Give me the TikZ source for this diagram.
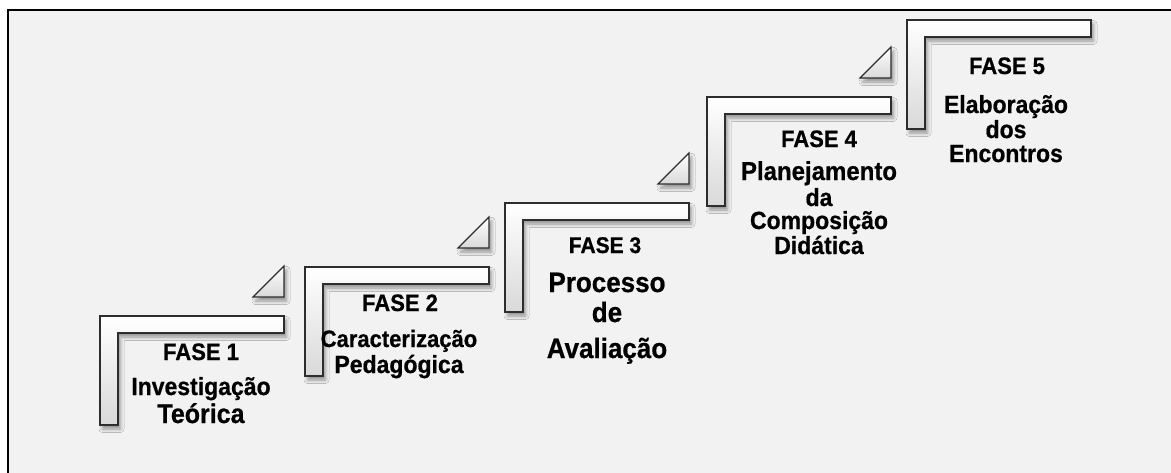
\documentclass[tikz,border=0pt]{standalone}
\usepackage{fontspec}
\setmainfont{Liberation Sans}[BoldFeatures={FakeBold=0.7}]
\usetikzlibrary{shadows.blur}
\definecolor{FrameGray}{RGB}{242,242,242}
\definecolor{EdgeGray}{RGB}{45,45,45}
\tikzset{
  stepbar/.style={draw=EdgeGray,line width=1.2pt,top color=white,bottom color=black!15,
    blur shadow={shadow xshift=2.5pt,shadow yshift=-4pt,shadow blur steps=6,
                 shadow blur radius=3.5pt,shadow opacity=40}},
  tall/.style={yscale=1.08,transform shape,anchor=base,inner sep=0pt},
  fasetext/.style={tall,font=\bfseries\fontsize{22}{22}\selectfont},
  desctext/.style={tall,font=\bfseries\fontsize{23}{23}\selectfont},
  bigtext/.style={tall,font=\bfseries\fontsize{26}{26}\selectfont},
}

\begin{document}
\begin{tikzpicture}[x=1pt,y=-1pt]
  \useasboundingbox (0,0) rectangle (1171,472);
  % frame
  \path[fill=FrameGray,draw=black,line width=1.5pt] (8,10) rectangle (1185,490);

  % steps (left x / top y)
  \foreach \x/\y in {100/316,305/267,505/203,707/97,907/20}{
    \path[stepbar] (\x,\y) -- ++(184,0) -- ++(0,17) -- ++(-166,0)
      -- ++(0,92) -- ++(-18,0) -- cycle;
  }
  % small triangles above the steps
  \foreach \x/\y in {284/297,489/248,689/184,891/78}{
    \path[stepbar] (\x,\y) -- ++(-31,0) -- ++(31,-31) -- cycle;
  }

  % FASE 1
  \node[fasetext] (f1) at (201,360) {FASE 1};
  \node[desctext] (d1a) at (201,395) {Investigação};
  \node[tall,font=\bfseries\fontsize{25}{25}\selectfont] (d1b) at (201,423) {Teórica};
  % FASE 2
  \node[fasetext] (f2) at (400,311) {FASE 2};
  \node[desctext,font=\bfseries\fontsize{22}{22}\selectfont] (d2a) at (399,347) {Caracterização};
  \node[desctext] (d2b) at (399,373) {Pedagógica};
  % FASE 3
  \node[fasetext,font=\bfseries\fontsize{21}{21}\selectfont] (f3) at (605,253) {FASE 3};
  \node[bigtext] (d3a) at (607,292) {Processo};
  \node[bigtext] (d3b) at (607,322) {de};
  \node[bigtext] (d3c) at (607,358) {Avaliação};
  % FASE 4
  \node[fasetext] (f4) at (819,147) {FASE 4};
  \node[desctext,font=\bfseries\fontsize{24}{24}\selectfont] (d4a) at (819,180) {Planejamento};
  \node[desctext] (d4b) at (819,206) {da};
  \node[desctext] (d4c) at (819,229) {Composição};
  \node[desctext] (d4d) at (819,254) {Didática};
  % FASE 5
  \node[fasetext] (f5) at (1007,74) {FASE 5};
  \node[desctext] (d5a) at (1006,113) {Elaboração};
  \node[desctext] (d5b) at (1006,138) {dos};
  \node[desctext] (d5c) at (1006,162) {Encontros};
\end{tikzpicture}
\end{document}
